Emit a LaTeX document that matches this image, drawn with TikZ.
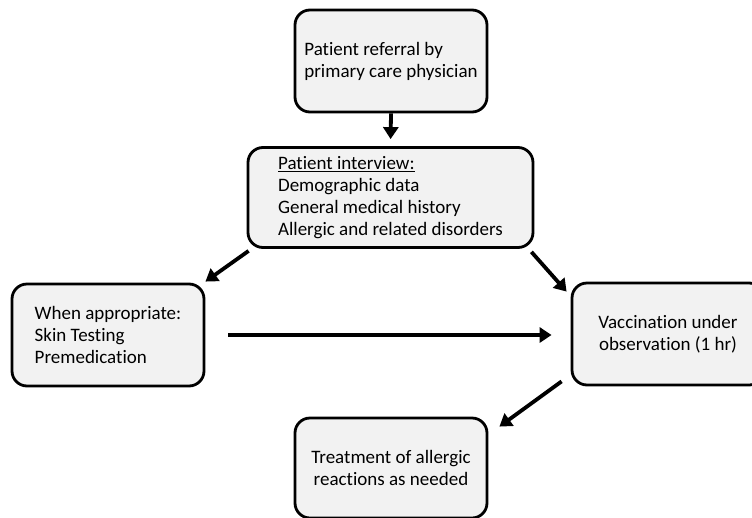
\documentclass[tikz,border=0pt]{standalone}
\usepackage{fontspec}
\setmainfont{Carlito}[Ligatures=NoCommon]
\usetikzlibrary{arrows.meta}
\definecolor{boxfill}{HTML}{F2F2F2}
\tikzset{
  box/.style={draw=black, line width=2.8pt, fill=boxfill, rounded corners=15pt,
    align=left, font=\fontsize{19}{22}\selectfont, inner sep=0pt},
  arr/.style={line width=3.8pt, -{Triangle[length=12pt,width=15pt]}}
}
\begin{document}
\begin{tikzpicture}[x=1pt,y=-1pt]
\useasboundingbox (0,0) rectangle (752,517);
\clip (0,0) rectangle (752,517);
\node[box, minimum width=192pt, minimum height=102pt] (b1) at (391,61)
  {Patient referral by\\primary care physician};
\node[box, minimum width=285pt, minimum height=100pt] (b2) at (390.5,197.5)
  {\underline{Patient interview:}\\Demographic data\\General medical history\\Allergic and related disorders};
\node[box, minimum width=192pt, minimum height=102pt] (b3) at (108,335)
  {When appropriate:\\Skin Testing\\Premedication};
\node[box, minimum width=192pt, minimum height=102pt, align=center] (b4) at (668,334)
  {Vaccination under\\observation (1 hr)};
\node[box, minimum width=192pt, minimum height=100pt, align=center] (b5) at (391,468)
  {Treatment of allergic\\reactions as needed};
\draw[arr, shorten >=7pt] (b1.south) -- (b2.north);
\draw[arr] ([shift={(2,2)}]b2.south west) -- ([shift={(0,-1)}]b3.north east);
\draw[arr] ([shift={(-3,3)}]b2.south east) -- ([shift={(-4,10)}]b4.north west);
\draw[arr, shorten <=23pt, shorten >=19pt] (b3.east) -- (b3.east -| b4.west);
\draw[arr] ([shift={(-9,-5)}]b4.south west) -- ([shift={(11,10)}]b5.north east);
\end{tikzpicture}
\end{document}
